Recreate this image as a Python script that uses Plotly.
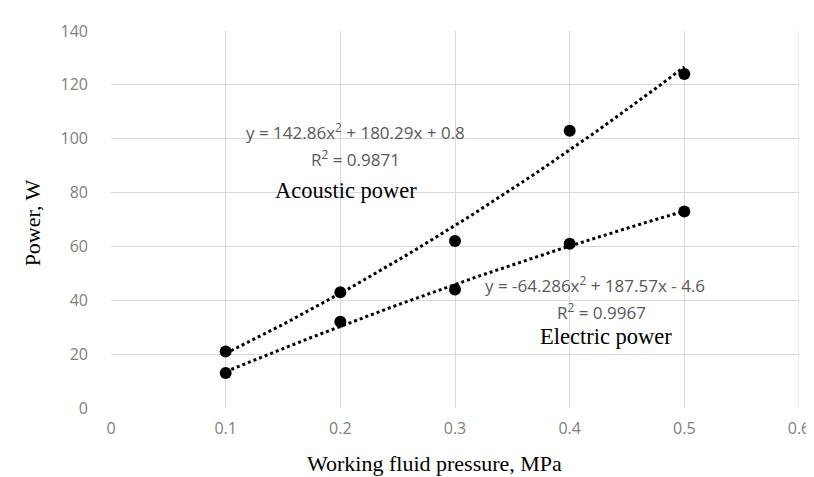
import numpy as np
import plotly.graph_objects as go

pressure = [0.1, 0.2, 0.3, 0.4, 0.5]
acoustic_power = [21, 43, 62, 103, 124]
electric_power = [13, 32, 44, 61, 73]

acoustic_fit = [142.86, 180.29, 0.8]
electric_fit = [-64.286, 187.57, -4.6]

x_ticks = [0, 0.1, 0.2, 0.3, 0.4, 0.5, 0.6]
y_ticks = [0, 20, 40, 60, 80, 100, 120, 140]

xs = np.linspace(min(pressure), max(pressure), 60)

fig = go.Figure()
for coef in (acoustic_fit, electric_fit):
    fig.add_trace(go.Scatter(x=xs, y=np.polyval(coef, xs), mode="lines",
                             line=dict(color="black", width=3, dash="dot"),
                             showlegend=False, hoverinfo="skip"))
for vals in (acoustic_power, electric_power):
    fig.add_trace(go.Scatter(x=pressure, y=vals, mode="markers",
                             marker=dict(color="black", size=12),
                             showlegend=False))

eq_font = dict(family="Open Sans, Liberation Sans, sans-serif", size=17, color="#595959")
lab_font = dict(family="Liberation Serif, serif", size=22.5, color="black")
ann = [
    dict(x=0.213, y=102.6, text="y = 142.86x<sup>2</sup> + 180.29x + 0.8", font=eq_font),
    dict(x=0.213, y=92.6, text="R<sup>2</sup> = 0.9871", font=eq_font),
    dict(x=0.205, y=80.6, text="Acoustic power", font=lab_font),
    dict(x=0.422, y=45.8, text="y = -64.286x<sup>2</sup> + 187.57x - 4.6", font=eq_font),
    dict(x=0.428, y=35.9, text="R<sup>2</sup> = 0.9967", font=eq_font),
    dict(x=0.432, y=26.4, text="Electric power", font=lab_font),
]
for a in ann:
    fig.add_annotation(xref="x", yref="y", showarrow=False, xanchor="center", yanchor="middle", **a)

title_font = dict(family="Liberation Serif, serif", size=22, color="black")
fig.add_annotation(xref="paper", yref="paper", x=(430 - 103) / 696, y=(400 - 456) / 382,
                   text="Working fluid pressure, MPa", showarrow=False,
                   xanchor="center", yanchor="middle", font=title_font)
fig.add_annotation(xref="paper", yref="paper", x=(24 - 103) / 696, y=(400 - 212) / 382,
                   text="Power, W", showarrow=False, textangle=-90,
                   xanchor="center", yanchor="middle", font=title_font)

tick_font = dict(family="Open Sans, Liberation Sans, sans-serif", size=16, color="#808080")
fig.update_layout(
    width=814, height=477,
    margin=dict(l=103, r=17, t=18, b=77),
    paper_bgcolor="white", plot_bgcolor="white",
    xaxis=dict(range=[0, 0.6], tickvals=x_ticks, ticktext=[str(v) for v in x_ticks],
               showgrid=True, gridcolor="#d9d9d9", gridwidth=1, zeroline=False,
               showline=False, tickfont=tick_font, ticks="", ticklabelstandoff=9),
    yaxis=dict(range=[0, 140], tickvals=y_ticks,
               showgrid=True, gridcolor="#d9d9d9", gridwidth=1, zeroline=False,
               showline=False, tickfont=tick_font, ticks="", ticklabelstandoff=22),
)
fig.add_shape(type="line", xref="x", yref="y", x0=0.6, x1=0.6, y0=0, y1=140,
              line=dict(color="#d9d9d9", width=1), layer="below")
fig.write_html("out.html")
